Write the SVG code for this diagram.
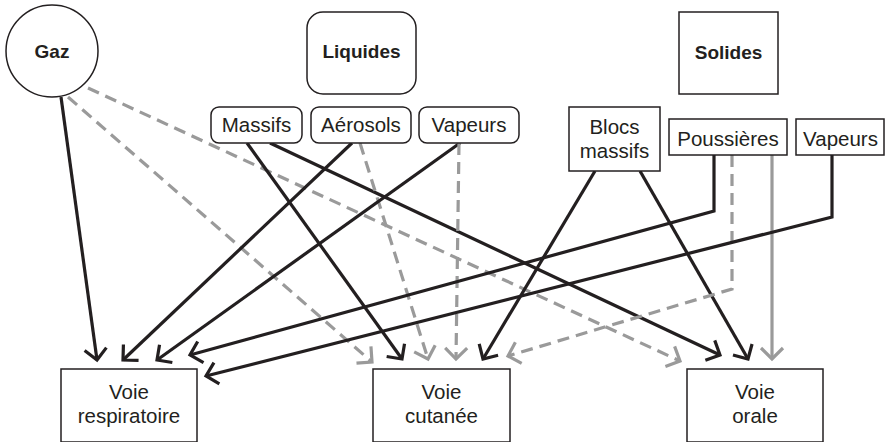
<svg xmlns="http://www.w3.org/2000/svg" width="885" height="442" viewBox="0 0 885 442">
  <style>
    .box { fill: #ffffff; stroke: #231f20; stroke-width: 1.5; }
    .lbl { font-family: "Liberation Sans", Arial, sans-serif; font-size: 20.5px; fill: #231f20; text-anchor: middle; }
    .head { font-weight: bold; font-size: 19px; }
    .blk { fill: none; stroke: #231f20; stroke-width: 3.2; stroke-linejoin: miter; }
    .gry { fill: none; stroke: #9a9a9a; stroke-width: 3.2; }
    .dash { stroke-dasharray: 12 7; }
    .mk-b { fill: none; stroke: #231f20; stroke-width: 3.2; }
    .mk-g { fill: none; stroke: #9a9a9a; stroke-width: 3.2; }
  </style>
  <defs>
    <marker id="arrB" markerUnits="userSpaceOnUse" markerWidth="26" markerHeight="26" refX="13" refY="13" orient="auto" overflow="visible">
      <path class="mk-b" d="M2,2 L13,13 L2,24"/>
    </marker>
    <marker id="arrG" markerUnits="userSpaceOnUse" markerWidth="26" markerHeight="26" refX="13" refY="13" orient="auto" overflow="visible">
      <path class="mk-g" d="M2,2 L13,13 L2,24"/>
    </marker>
  </defs>

  <rect width="885" height="442" fill="#ffffff"/>

  <g id="connectors">
    <!-- gaz -->
    <line class="gry dash" x1="88" y1="88" x2="680" y2="361" marker-end="url(#arrG)"/>
    <line class="gry dash" x1="68" y1="97" x2="372" y2="362" marker-end="url(#arrG)"/>
    <line class="blk" x1="61" y1="97" x2="97" y2="360" marker-end="url(#arrB)"/>
    <!-- liquides -->
    <line class="blk" x1="247" y1="143" x2="402" y2="359" marker-end="url(#arrB)"/>
    <line class="blk" x1="270" y1="143" x2="720" y2="355" marker-end="url(#arrB)"/>
    <line class="blk" x1="352" y1="143" x2="123" y2="360" marker-end="url(#arrB)"/>
    <line class="gry dash" x1="360" y1="143" x2="428" y2="359" marker-end="url(#arrG)"/>
    <line class="blk" x1="460" y1="143" x2="157" y2="360" marker-end="url(#arrB)"/>
    <line class="gry dash" x1="459" y1="143" x2="456" y2="359" marker-end="url(#arrG)"/>
    <!-- solides -->
    <line class="blk" x1="595" y1="171" x2="483" y2="359" marker-end="url(#arrB)"/>
    <line class="blk" x1="640" y1="171" x2="748" y2="359" marker-end="url(#arrB)"/>
    <polyline class="blk" points="714,155 714,211 190,355" marker-end="url(#arrB)"/>
    <polyline class="gry dash" points="732,155 732,289 508,356" marker-end="url(#arrG)"/>
    <line class="gry" x1="772" y1="155" x2="772" y2="359" marker-end="url(#arrG)"/>
    <polyline class="blk" points="832,155 832,217 206,376" marker-end="url(#arrB)"/>
  </g>

  <g id="gaz">
    <circle class="box" cx="52" cy="51" r="46"/>
    <text class="lbl head" x="52" y="58">Gaz</text>
  </g>

  <g id="liquides">
    <rect class="box" x="307" y="12" width="109" height="82" rx="16"/>
    <text class="lbl head" x="361.5" y="58">Liquides</text>
  </g>
  <g id="liq-massifs">
    <rect class="box" x="211" y="107" width="91" height="36" rx="8"/>
    <text class="lbl" x="256.5" y="132">Massifs</text>
  </g>
  <g id="liq-aerosols">
    <rect class="box" x="311" y="107" width="100" height="36" rx="8"/>
    <text class="lbl" x="361" y="132">Aérosols</text>
  </g>
  <g id="liq-vapeurs">
    <rect class="box" x="419" y="107" width="100" height="36" rx="8"/>
    <text class="lbl" x="469" y="132">Vapeurs</text>
  </g>

  <g id="solides">
    <rect class="box" x="679" y="12" width="99" height="82"/>
    <text class="lbl head" x="728.5" y="59">Solides</text>
  </g>
  <g id="sol-blocs">
    <rect class="box" x="569" y="107" width="91" height="64"/>
    <text class="lbl" x="614.5" y="134">Blocs</text>
    <text class="lbl" x="614.5" y="158">massifs</text>
  </g>
  <g id="sol-poussieres">
    <rect class="box" x="669" y="119" width="118" height="36"/>
    <text class="lbl" x="728" y="146">Poussières</text>
  </g>
  <g id="sol-vapeurs">
    <rect class="box" x="796" y="119" width="88" height="36"/>
    <text class="lbl" x="840.5" y="146">Vapeurs</text>
  </g>

  <g id="voie-respiratoire">
    <rect class="box" x="61" y="369" width="136" height="73"/>
    <text class="lbl" x="129" y="399">Voie</text>
    <text class="lbl" x="129" y="423">respiratoire</text>
  </g>
  <g id="voie-cutanee">
    <rect class="box" x="373" y="369" width="137" height="73"/>
    <text class="lbl" x="441.5" y="399">Voie</text>
    <text class="lbl" x="441.5" y="423">cutanée</text>
  </g>
  <g id="voie-orale">
    <rect class="box" x="687" y="369" width="136" height="73"/>
    <text class="lbl" x="755" y="399">Voie</text>
    <text class="lbl" x="755" y="423">orale</text>
  </g>
</svg>
